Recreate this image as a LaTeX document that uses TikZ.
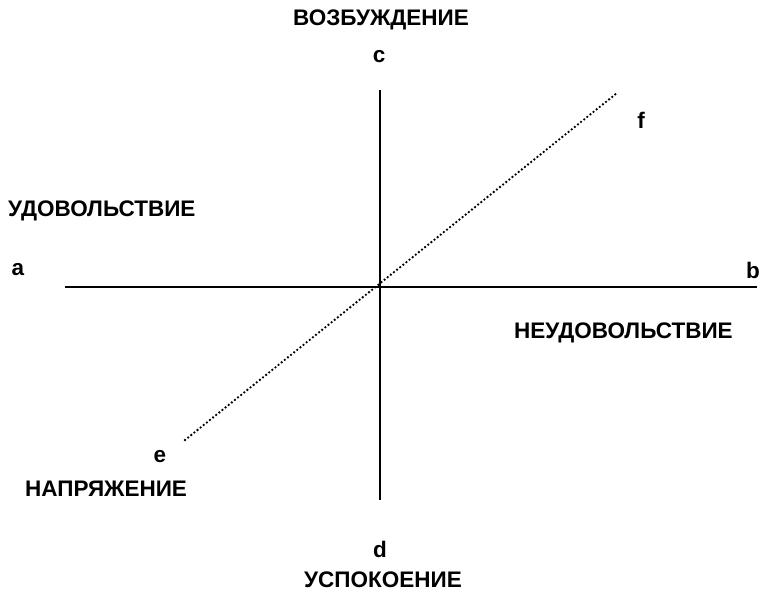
\documentclass[tikz,border=0pt]{standalone}
\usepackage{fontspec}
\setmainfont{Liberation Sans}
\begin{document}
\begin{tikzpicture}[x=1pt,y=-1pt,
  lbl/.style={font=\fontsize{22.5}{26}\selectfont\bfseries, inner sep=0pt},
  axis/.style={line width=2.6pt},
  diag/.style={line width=2.6pt, line cap=round, dash pattern=on 0pt off 4pt}]
\useasboundingbox (0,0) rectangle (759,595);
\coordinate (A) at (65,287);
\coordinate (B) at (757,287);
\coordinate (C) at (380,90);
\coordinate (D) at (380,500);
\coordinate (E) at (185,440);
\coordinate (F) at (617,93);
\draw[axis] (A) -- (B);
\draw[axis] (C) -- (D);
\draw[diag] (E) -- (F);
\node[lbl] (top) at (381,20) {ВОЗБУЖДЕНИЕ};
\node[lbl] (lc) at (379,57) {c};
\node[lbl] (lf) at (641,120) {f};
\node[lbl, anchor=west] (left) at (8,211) {УДОВОЛЬСТВИЕ};
\node[lbl] (la) at (18,270) {a};
\node[lbl, anchor=west] (lb) at (746,270) {b};
\node[lbl, anchor=west] (right) at (514,333) {НЕУДОВОЛЬСТВИЕ};
\node[lbl] (le) at (160,457) {e};
\node[lbl, anchor=west] (bl) at (25,489) {НАПРЯЖЕНИЕ};
\node[lbl] (ld) at (380,549) {d};
\node[lbl] (bot) at (383,580) {УСПОКОЕНИЕ};
\end{tikzpicture}
\end{document}
